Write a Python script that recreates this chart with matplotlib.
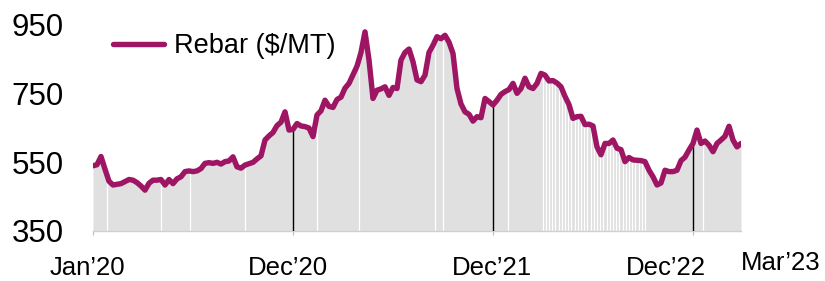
import numpy as np
import matplotlib
matplotlib.use("Agg")
import matplotlib.pyplot as plt

# weekly rebar price, Jan 2020 .. Mar 2023 ($/MT)
rebar = [540, 543, 567, 530, 495, 484, 486, 488, 494, 500,
         498, 491, 481, 469, 489, 498, 498, 500, 484, 500,
         488, 502, 508, 523, 525, 523, 525, 532, 547, 549,
         547, 550, 545, 552, 554, 566, 537, 533, 542, 546,
         550, 560, 569, 615, 627, 637, 657, 667, 697, 644,
         646, 663, 656, 654, 650, 625, 688, 700, 731, 713,
         710, 733, 740, 766, 780, 805, 830, 870, 930, 848,
         736, 760, 764, 770, 745, 768, 765, 848, 870, 880,
         843, 790, 785, 804, 870, 891, 916, 910, 920, 900,
         867, 765, 720, 697, 690, 670, 683, 680, 736, 727,
         717, 731, 748, 756, 762, 780, 751, 765, 795, 770,
         765, 780, 809, 804, 787, 788, 781, 770, 742, 718,
         678, 683, 684, 660, 661, 656, 595, 572, 605, 605,
         615, 591, 587, 552, 564, 557, 556, 555, 552, 527,
         508, 484, 490, 527, 523, 523, 527, 555, 565, 586,
         605, 644, 605, 612, 600, 581, 605, 615, 626, 655,
         615, 595, 605]
weeks = np.arange(len(rebar))

tick_weeks = [0, 50, 100, 150]
tick_labels = ["Jan\u201920", "Dec\u201920", "Dec\u201921", "Dec\u201922"]
last_label = "Mar\u201923"
y_ticks = [350, 550, 750, 950]

# weeks with a gap in the shaded area
gap_weeks = [3.5, 17, 24.25, 38, 56, 66.5, 85.5, 87.5, 103.75] + list(np.arange(112.4, 138.3, 0.8)) + [152.5]

plt.rcParams['font.family'] = ['Liberation Sans', 'DejaVu Sans']

fig = plt.figure(figsize=(8.25, 2.81), dpi=100)
ax = fig.add_axes([93/825, 1 - 231/281, 648/825, 206/281])

line_col = '#9E1563'
base = 350
ax.fill_between(weeks, base, rebar, color='#E0E0E0', lw=0, zorder=1)
ax.vlines(gap_weeks, base, np.interp(gap_weeks, weeks, rebar), color='white', lw=0.9, zorder=2)
ax.vlines(tick_weeks[1:], base, np.interp(tick_weeks[1:], weeks, rebar), color='black', lw=1, zorder=3)
ax.plot(weeks, rebar, color=line_col, lw=3.9, solid_joinstyle='round', solid_capstyle='round',
        zorder=4, label='Rebar ($/MT)')

ax.set_xlim(0, len(rebar) - 1)
ax.set_ylim(350, 950)
ax.set_yticks(y_ticks)
ax.tick_params(axis='y', length=0, pad=21, labelsize=22.5)
ax.set_xticks(tick_weeks)
ax.set_xticklabels([])
ax.tick_params(axis='x', length=3, color='#BFBFBF', direction='out')

for s in ['top', 'right', 'left']:
    ax.spines[s].set_visible(False)
ax.spines['bottom'].set_color('#D0D0D0')
ax.spines['bottom'].set_linewidth(1)

# x labels
shifts = [-6, -5, -1, -27]
for w, lab, dx in zip(tick_weeks, tick_labels, shifts):
    ax.annotate(lab, (w, 0), xycoords=('data', 'axes fraction'), xytext=(dx * 0.72, -37 * 0.72),
                textcoords='offset points', ha='center', va='center', fontsize=18.5)
ax.annotate(last_label, (len(rebar) - 1, 0), xycoords=('data', 'axes fraction'), xytext=(40 * 0.72, -32 * 0.72),
            textcoords='offset points', ha='center', va='center', fontsize=18.5)

ax.legend(loc='center left', bbox_to_anchor=(20/648, (231-46)/206), frameon=False, fontsize=19.5,
          handlelength=1.9, handletextpad=0.35, borderpad=0, borderaxespad=0)

fig.savefig('out.png', dpi=100)
